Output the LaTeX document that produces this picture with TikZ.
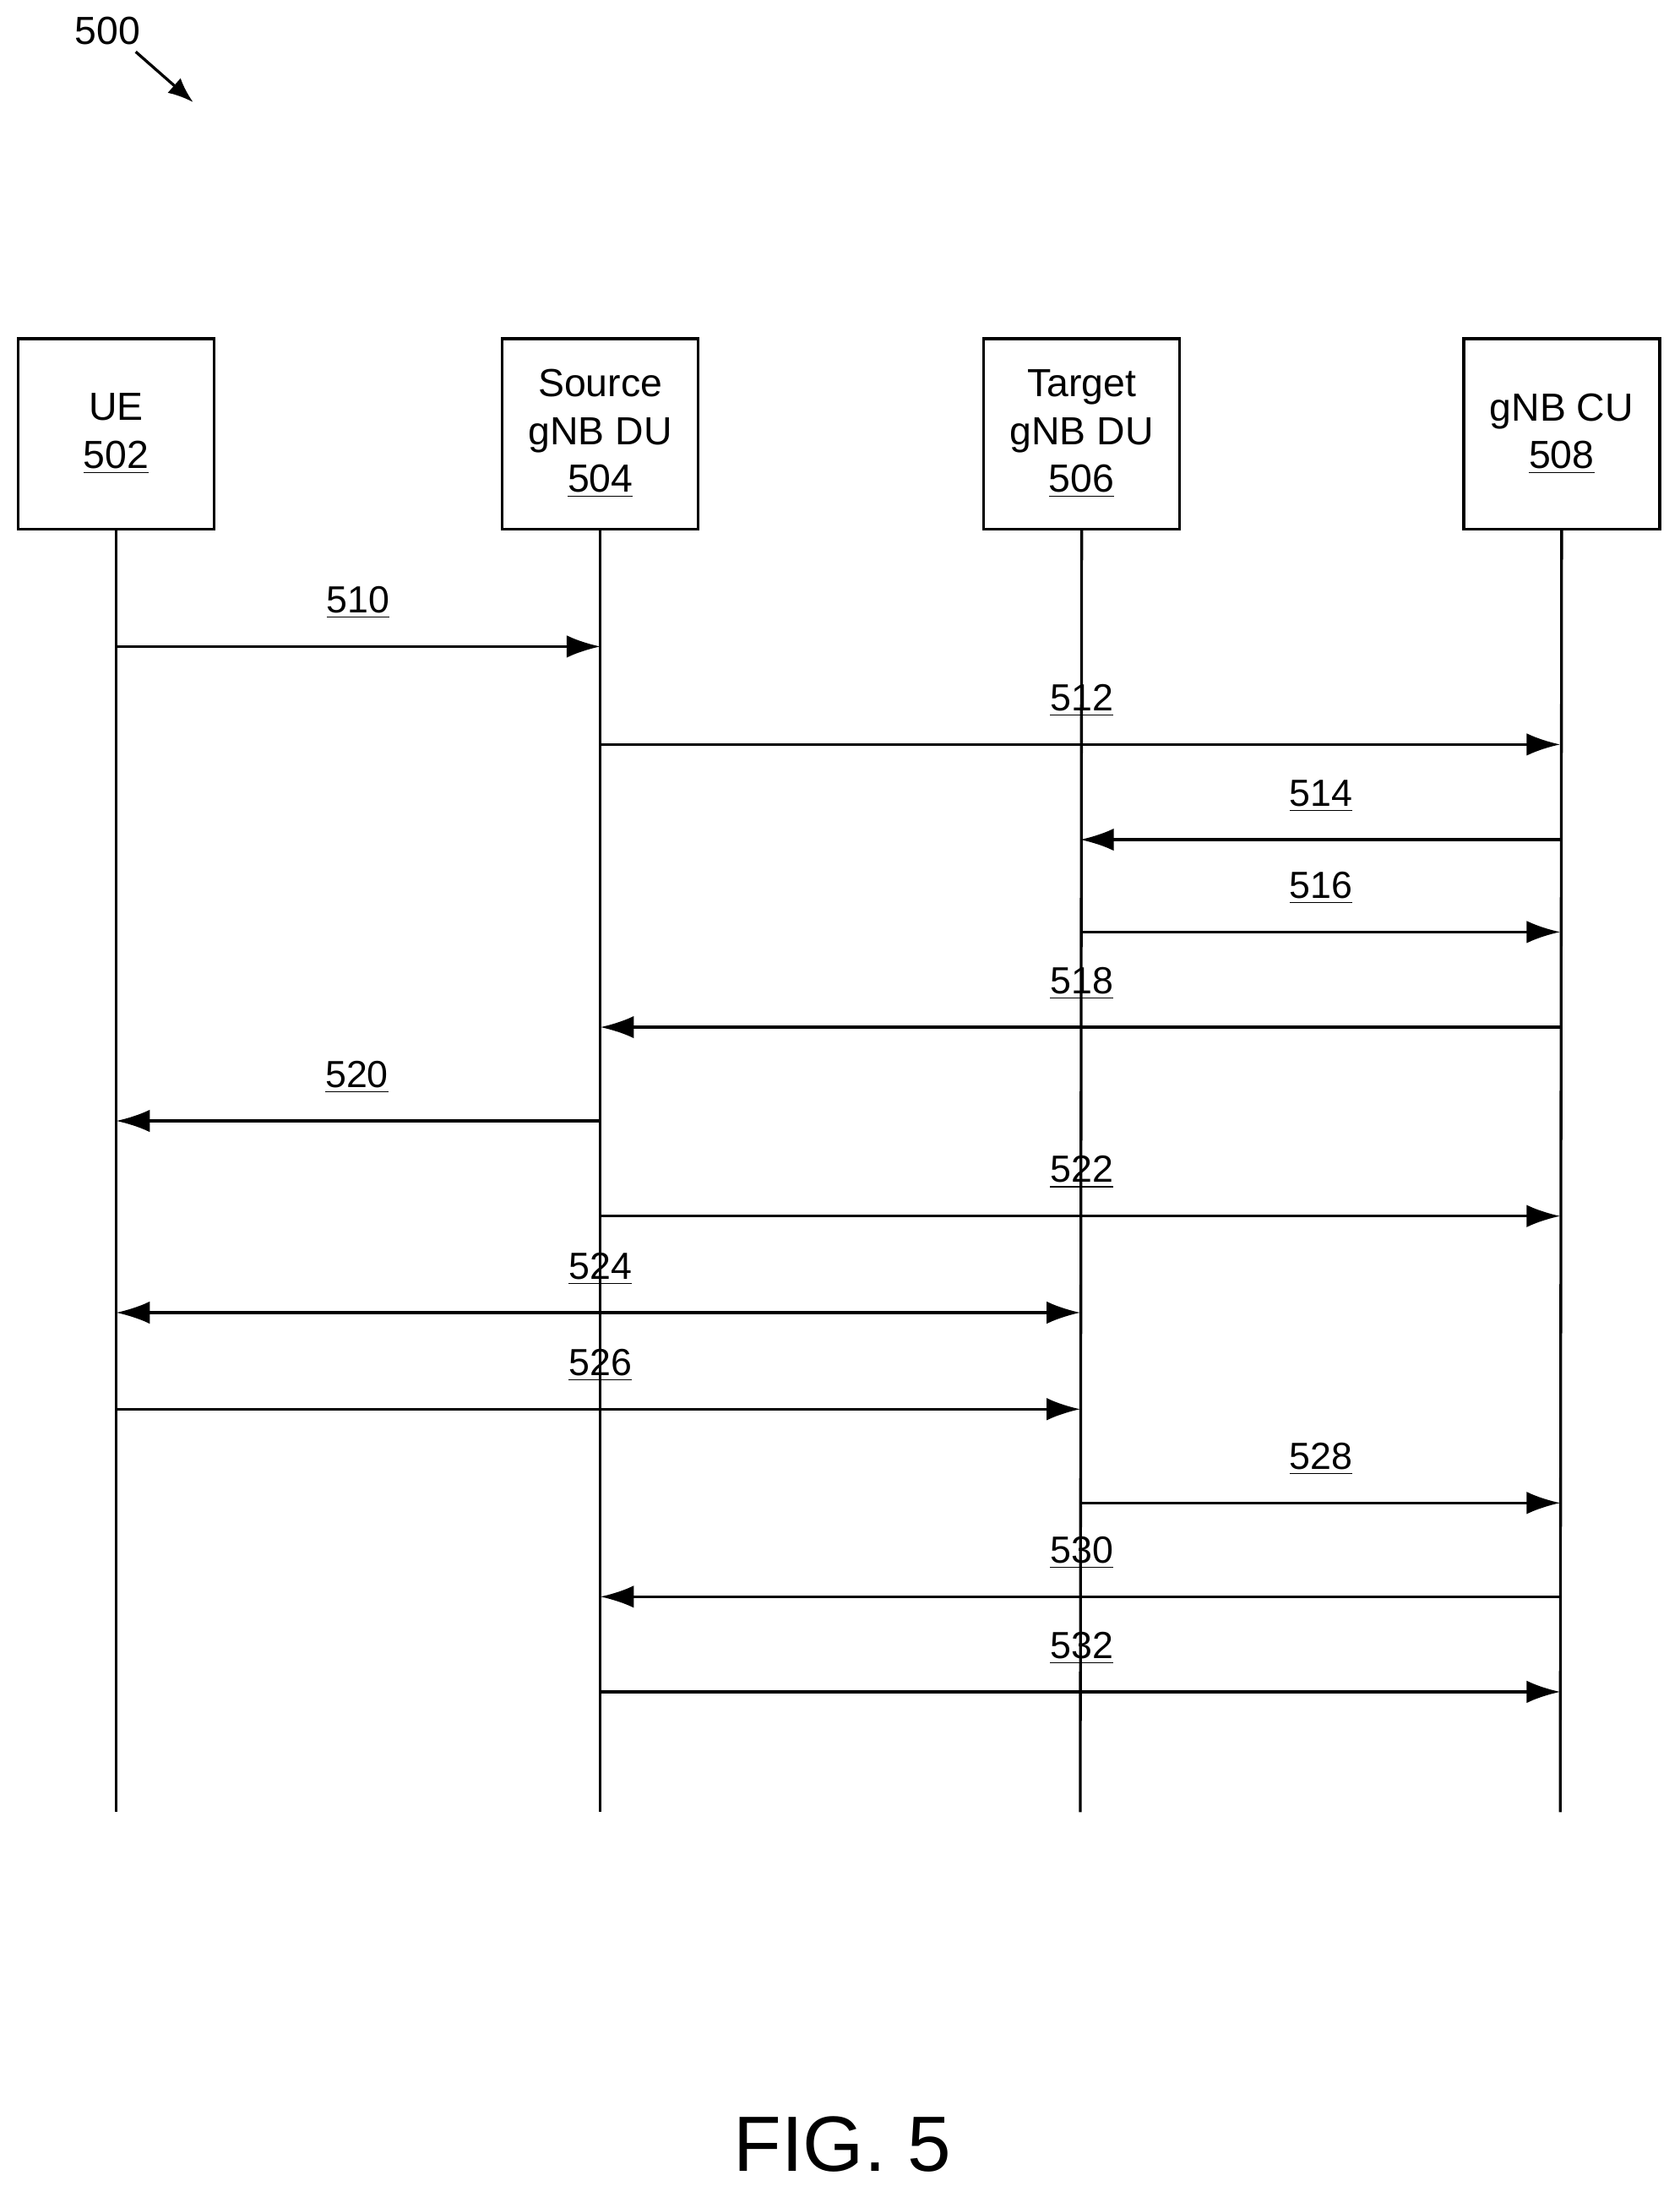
\documentclass[tikz,border=0pt]{standalone}
\usepackage{fontspec}
\setmainfont{Liberation Sans}
\begin{document}
\begin{tikzpicture}[x=0.5pt,y=-0.5pt,
  box/.style={draw,line width=1pt,minimum width=70pt,minimum height=68pt,align=center,font=\fontsize{14}{17}\selectfont,inner sep=0pt},
  life/.style={line width=1pt},
  msg/.style={line width=1pt,-{Latex[length=12pt,width=8pt]}},
  lab/.style={font=\fontsize{13.5}{16}\selectfont,anchor=base}]
\usetikzlibrary{arrows.meta}
\useasboundingbox (0,0) rectangle (1200,1570);
\node[font=\fontsize{14}{17}\selectfont] (n500) at (77,22) {500};
\coordinate (a0) at (97,37); \coordinate (a1) at (138,73);
\draw[line width=1pt,-{Latex[length=9pt,width=7pt]}] (a0) -- (a1);
\node[box] (ue) at (83,310) {UE\\\underline{502}};
\node[box] (src) at (429,310) {Source\\gNB DU\\\underline{504}};
\node[box] (tgt) at (773,310) {Target\\gNB DU\\\underline{506}};
\node[box] (cu) at (1116,310) {gNB CU\\\underline{508}};
\foreach \n/\x in {ue/83,src/429,tgt/772,cu/1115}{
  \coordinate (\n e) at (\x,1295);
  \draw[life] (\n.south) -- (\n e);}
\foreach \y/\a/\b/\l/\lx in {462/83/429/510/256, 532/429/1115/512/773, 600/1115/772/514/944, 666/772/1115/516/944, 734/1115/429/518/773, 801/429/83/520/255, 869/429/1115/522/773, 1007/83/772/526/429, 1074/772/1115/528/944, 1141/1115/429/530/773, 1209/429/1115/532/773}{
  \coordinate (s\l) at (\a,\y); \coordinate (t\l) at (\b,\y);
  \draw[msg] (s\l) -- (t\l);
  \node[lab] (l\l) at (\lx,\y-24) {\underline{\l}};}
\coordinate (s524) at (83,938); \coordinate (t524) at (772,938);
\draw[line width=1pt,{Latex[length=12pt,width=8pt]}-{Latex[length=12pt,width=8pt]}] (s524) -- (t524);
\node[lab] (l524) at (429,914) {\underline{524}};
\node[font=\fontsize{28}{32}\selectfont] (fig) at (602,1532) {FIG. 5};
\end{tikzpicture}
\end{document}
